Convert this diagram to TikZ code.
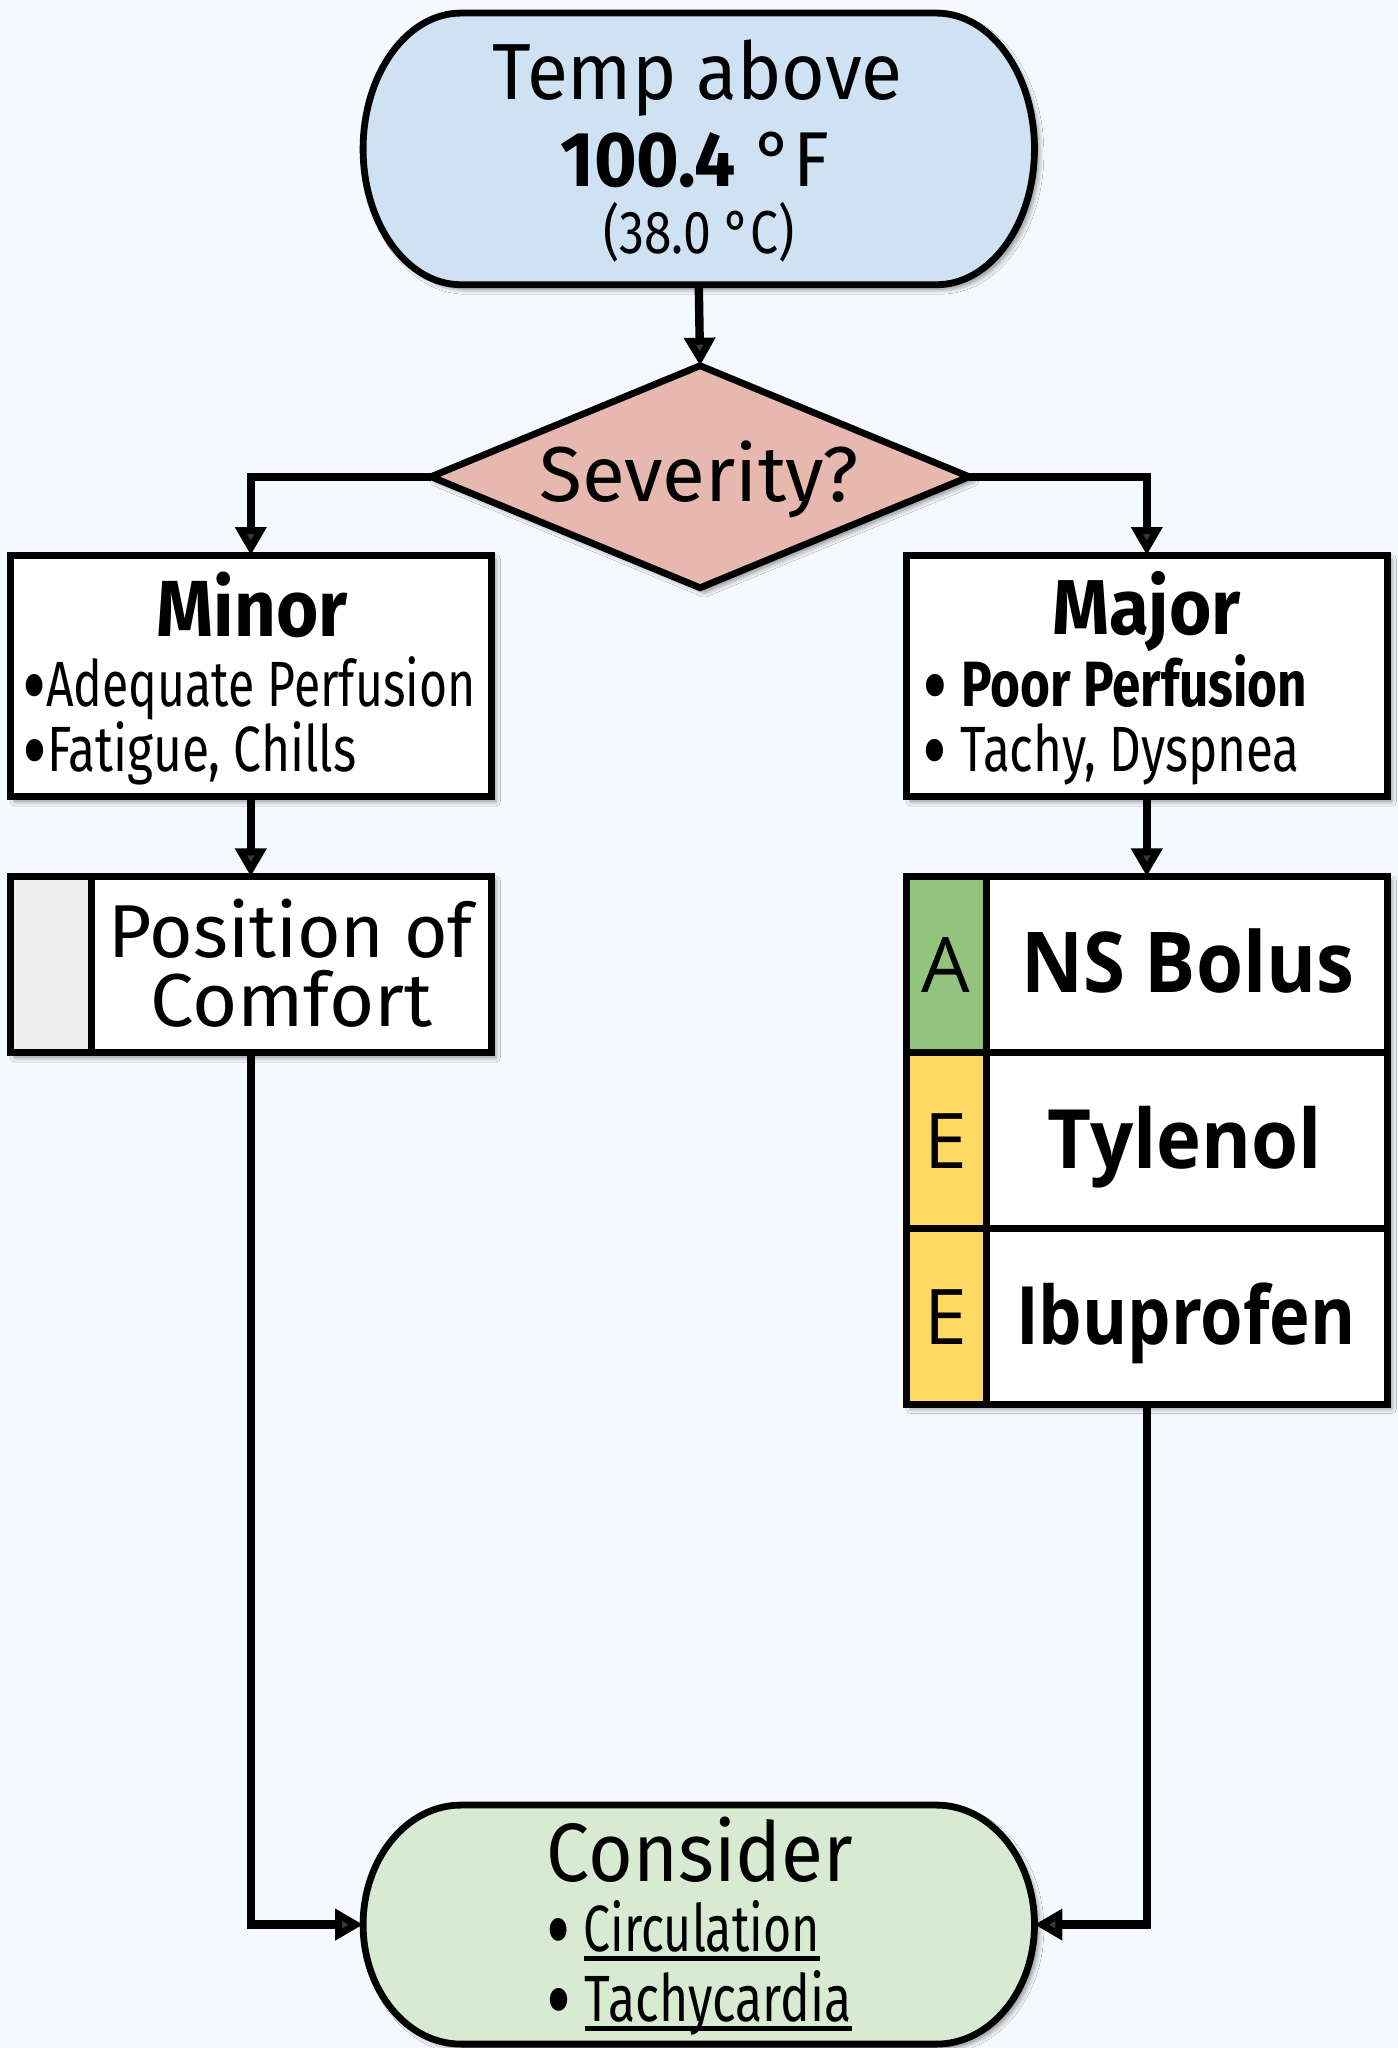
\documentclass[tikz,border=0pt]{standalone}
\usepackage{fontspec}
\usepackage{graphicx}
\setmainfont{Fira Sans}
\newfontfamily\osans{Open Sans}
\usetikzlibrary{arrows.meta,shapes.geometric,shadows.blur}
\newdimen\pxu \pxu=0.65325pt
\newcommand\tl[3]{\resizebox{#1\pxu}{\height}{\fontsize{#2}{#2}\selectfont #3}}
\newcommand\ulw[1]{\setbox0\hbox{#1}\rlap{\smash{\rule[-5pt]{\wd0}{2.6pt}}}\box0}
\newcommand\bul{\smash{\raisebox{-0.2em}{\scalebox{1.55}{•}}}}
\definecolor{bgc}{HTML}{F5F8FC}
\definecolor{topc}{HTML}{CFE2F3}
\definecolor{sevc}{HTML}{E6B8AF}
\definecolor{botc}{HTML}{D9EAD3}
\definecolor{grc}{HTML}{93C47D}
\definecolor{yec}{HTML}{FFD966}
\definecolor{gyc}{HTML}{EFEFEF}
\tikzset{
  shd/.style={blur shadow={shadow xshift=2.2pt, shadow yshift=-2.2pt, shadow blur steps=7, shadow blur radius=2.5pt, shadow opacity=45}},
  outl/.style={line width=3.4pt, draw=black},
  box/.style={rectangle, draw, line width=3.4pt, fill=white, inner sep=0pt, outer sep=0pt},
  hid/.style={rectangle, inner sep=0pt, outer sep=0pt},
  txt/.style={inner sep=0pt, outer sep=0pt, anchor=base},
  txtw/.style={inner sep=0pt, outer sep=0pt, anchor=base west},
  arr/.style={line width=4.2pt, -{Triangle[length=14pt,width=15pt]}},
}
\begin{document}
\begin{tikzpicture}[x=0.65325pt, y=-0.65325pt]
\useasboundingbox (0,0) rectangle (1070,1568);
\fill[bgc] (0,0) rectangle (1070,1568);

% top terminator
\node[hid, minimum width=514*0.65325pt, minimum height=208*0.65325pt] (top) at (535,114) {};
\path[outl, fill=topc, shd] (353,10) -- (717,10) .. controls (758.4,10) and (792,56.6) .. (792,114)
  .. controls (792,171.4) and (758.4,218) .. (717,218) -- (353,218)
  .. controls (311.6,218) and (278,171.4) .. (278,114)
  .. controls (278,56.6) and (311.6,10) .. (353,10) -- cycle;

% decision
\node[diamond, draw, line width=3.4pt, fill=sevc, inner sep=0pt, outer sep=0pt, shd,
  minimum width=412*0.65325pt, minimum height=170*0.65325pt] (sev) at (536,365) {};

% minor / major
\node[box, shd, minimum width=368*0.65325pt, minimum height=185*0.65325pt] (minor) at (192,517.5) {};
\node[box, shd, minimum width=368*0.65325pt, minimum height=185*0.65325pt] (major) at (878,517.5) {};

% position of comfort
\node[box, shd, minimum width=368*0.65325pt, minimum height=135*0.65325pt] (pos) at (192,738.5) {};
\node[box, fill=gyc, minimum width=62*0.65325pt, minimum height=135*0.65325pt] (posg) at (39,738.5) {};

% stack
\node[box, shd, minimum width=368*0.65325pt, minimum height=404*0.65325pt] (stack) at (878,873) {};
\node[box, minimum width=368*0.65325pt, minimum height=134.7*0.65325pt] (row1) at (878,738.4) {};
\node[box, minimum width=368*0.65325pt, minimum height=134.7*0.65325pt] (row2) at (878,873.1) {};
\node[box, minimum width=368*0.65325pt, minimum height=134.7*0.65325pt] (row3) at (878,1007.8) {};
\node[box, fill=grc, minimum width=61*0.65325pt, minimum height=134.7*0.65325pt] (sa) at (724.5,738.4) {};
\node[box, fill=yec, minimum width=61*0.65325pt, minimum height=134.7*0.65325pt] (sb) at (724.5,873.1) {};
\node[box, fill=yec, minimum width=61*0.65325pt, minimum height=134.7*0.65325pt] (sc) at (724.5,1007.8) {};
\draw[outl] (stack.north west) rectangle (stack.south east);

% bottom terminator
\node[hid, minimum width=514*0.65325pt, minimum height=183*0.65325pt] (bot) at (535,1473.5) {};
\path[outl, fill=botc, shd] (353,1382) -- (717,1382) .. controls (758.4,1382) and (792,1423) .. (792,1473.5)
  .. controls (792,1524) and (758.4,1565) .. (717,1565) -- (353,1565)
  .. controls (311.6,1565) and (278,1524) .. (278,1473.5)
  .. controls (278,1423) and (311.6,1382) .. (353,1382) -- cycle;

% connectors
\draw[arr] (top.south) -- (sev.north);
\draw[arr] (sev.west) -| (minor.north);
\draw[arr] (sev.east) -| (major.north);
\draw[arr] (minor.south) -- (pos.north);
\draw[arr] (major.south) -- (stack.north);
\draw[arr] (pos.south) |- (bot.west);
\draw[arr] (stack.south) |- (bot.east);

% texts
\node[txt] (t1) at (534,76.5) {\tl{314}{39.8}{Temp above}};
\node[txt] (t2) at (532,143) {\tl{206}{38.9}{{\bfseries 100.4} °F}};
\node[txt] (t3) at (535,194.4) {\tl{146.5}{30.3}{(38.0 °C)}};
\node[txt] (t4) at (535,384) {\tl{244}{38.9}{Severity?}};
\node[txt] (t5) at (193,487.5) {\tl{146}{39.8}{\bfseries Minor}};
\node[txtw] (t6) at (17,541) {\tl{347}{32}{\bul Adequate Perfusion}};
\node[txtw] (t7) at (17,591) {\tl{256}{32}{\bul Fatigue, Chills}};
\node[txt] (t8) at (878,486) {\tl{144}{38.9}{\bfseries Major}};
\node[txtw] (t9) at (706,541) {\tl{295}{32}{\bul\ {\bfseries Poor Perfusion}}};
\node[txtw] (t10) at (706,591) {\tl{289}{32}{\bul\ Tachy, Dyspnea}};
\node[txt] (t11) at (222.5,733) {\tl{279}{37.5}{Position of}};
\node[txt] (t12) at (223,786) {\tl{216}{37.5}{Comfort}};
\node[txt] (t13) at (724,760) {\fontsize{38.4}{38.4}\selectfont\osans A};
\node[txt] (t14) at (909.5,760) {\tl{255}{42}{\osans\bfseries NS Bolus}};
\node[txt] (t15) at (724,894.5) {\fontsize{38.4}{38.4}\selectfont\osans E};
\node[txt] (t16) at (907,894.5) {\tl{210}{41}{\osans\bfseries Tylenol}};
\node[txt] (t17) at (724,1029) {\fontsize{38.4}{38.4}\selectfont\osans E};
\node[txt] (t18) at (908,1029) {\tl{260}{40.3}{\osans\bfseries Ibuprofen}};
\node[txt] (t19) at (536,1440.5) {\tl{234.5}{41.4}{Consider}};
\node[txtw] (t20) at (418.5,1494) {\tl{209}{32.7}{\bul\ \ulw{Circulation}}};
\node[txtw] (t21) at (418.5,1547.6) {\tl{233.5}{32.7}{\bul\ \ulw{Tachycardia}}};
\end{tikzpicture}
\end{document}
